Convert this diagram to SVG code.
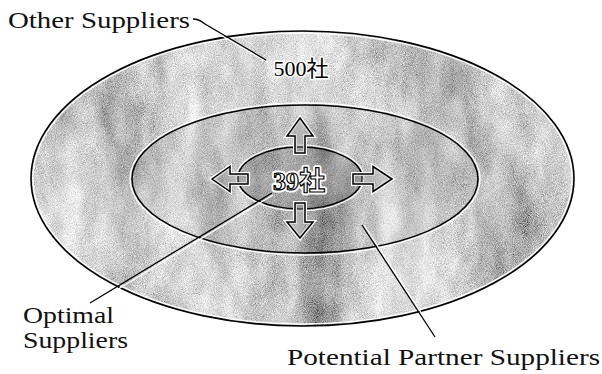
<svg xmlns="http://www.w3.org/2000/svg" width="602" height="374" viewBox="0 0 602 374">
<style>
.lbl{font-family:"Liberation Serif","DejaVu Serif","Noto Serif",Tinos,"Nimbus Roman","FreeSerif","Times New Roman",Times,Georgia,serif;font-size:23px;fill:#111}
.num{font-family:"Liberation Serif","DejaVu Serif","Noto Serif",Tinos,"Nimbus Roman","Times New Roman","Noto Sans CJK JP",serif;text-anchor:middle}
.lead{fill:none;stroke:#000;stroke-width:1.3}
.halo{fill:none;stroke:#fff;stroke-width:1.3}
.arrW{fill:none;stroke:#fff;stroke-width:4;stroke-linejoin:miter}
.arrB{fill:#9a9a9a;fill-opacity:0.35;stroke:#000;stroke-width:1.5;stroke-linejoin:miter}
</style>
<defs>
<filter id="tex" filterUnits="userSpaceOnUse" x="0" y="0" width="602" height="374">
<feTurbulence type="fractalNoise" baseFrequency="0.02 0.006" numOctaves="4" seed="11" result="a"/>
<feTurbulence type="fractalNoise" baseFrequency="0.06 0.03" numOctaves="2" seed="5" result="m"/>
<feTurbulence type="fractalNoise" baseFrequency="1.1" numOctaves="2" seed="3" result="b"/>
<feComposite in="a" in2="m" operator="arithmetic" k1="0" k2="0.7" k3="0.3" k4="0" result="am"/>
<feComposite in="am" in2="b" operator="arithmetic" k1="0" k2="0.6" k3="0.4" k4="0" result="c"/>
<feColorMatrix in="c" type="matrix" values="1.9 0 0 0 -0.35  1.9 0 0 0 -0.35  1.9 0 0 0 -0.35  0 0 0 0 1"/>
</filter>
<clipPath id="outerClip"><ellipse cx="302.5" cy="178.5" rx="271.5" ry="147.5"/></clipPath>
</defs>
<rect width="602" height="374" fill="#fff"/>
<g id="outer">
<rect x="0" y="0" width="602" height="374" filter="url(#tex)" clip-path="url(#outerClip)"/>
<ellipse cx="302.5" cy="178.5" rx="269.5" ry="145.5" fill="none" stroke="#fff" stroke-width="1.3"/>
<ellipse cx="302.5" cy="178.5" rx="271.5" ry="147.5" fill="none" stroke="#000" stroke-width="1.6"/>
<text class="num" x="301" y="76" font-size="22" fill="#000" stroke="#fff" stroke-width="3" paint-order="stroke">500社</text>
</g>
<g id="middle">
<ellipse cx="305" cy="179" rx="173" ry="74" fill="#000" fill-opacity="0.06"/>
<ellipse cx="305" cy="179" rx="175" ry="76" fill="none" stroke="#fff" stroke-width="1.3"/>
<ellipse cx="305" cy="179" rx="173" ry="74" fill="none" stroke="#000" stroke-width="1.5"/>
</g>
<g id="inner">
<ellipse cx="300" cy="178" rx="62" ry="31" fill="#000" fill-opacity="0.14"/>
<ellipse cx="300" cy="178" rx="64" ry="33" fill="none" stroke="#fff" stroke-width="1.2"/>
<ellipse cx="300" cy="178" rx="62" ry="31" fill="none" stroke="#000" stroke-width="1.5"/>
</g>
<g id="arrows">
<polygon class="arrW" points="300,118 313,136 305,136 305,153 295,153 295,136 287,136"/>
<polygon class="arrB" points="300,118 313,136 305,136 305,153 295,153 295,136 287,136"/>
<polygon class="arrW" points="300,238 313,222 305,222 305,203 295,203 295,222 287,222"/>
<polygon class="arrB" points="300,238 313,222 305,222 305,203 295,203 295,222 287,222"/>
<polygon class="arrW" points="212,179 230,166.5 230,174 248,174 248,184 230,184 230,191.5"/>
<polygon class="arrB" points="212,179 230,166.5 230,174 248,174 248,184 230,184 230,191.5"/>
<polygon class="arrW" points="392,179 373,166.5 373,174 353,174 353,184 373,184 373,191.5"/>
<polygon class="arrB" points="392,179 373,166.5 373,174 353,174 353,184 373,184 373,191.5"/>
</g>
<g id="core">
<text class="num" x="299" y="190" font-size="26" font-weight="bold" fill="none" stroke="#fff" stroke-width="5" stroke-linejoin="round">39社</text>
<text class="num" x="299" y="190" font-size="26" font-weight="bold" fill="#fff" stroke="#000" stroke-width="1.2">39社</text>
</g>
<g id="connectors">
<path class="halo" d="M205,26 L267,62"/>
<path class="lead" d="M193,19 Q199,19 205,24 L266,60"/>
<path class="halo" d="M92,305 L273,195"/>
<path class="lead" d="M90,303 L272,193"/>
<path class="halo" d="M364,225 L437,337"/>
<path class="lead" d="M362,225 L435,337"/>
</g>
<g id="labels">
<text class="lbl" x="8" y="28" textLength="182" lengthAdjust="spacingAndGlyphs">Other Suppliers</text>
<text class="lbl" x="23" y="323" textLength="91" lengthAdjust="spacingAndGlyphs">Optimal</text>
<text class="lbl" x="23" y="348" textLength="105" lengthAdjust="spacingAndGlyphs">Suppliers</text>
<text class="lbl" x="287" y="365" textLength="313" lengthAdjust="spacingAndGlyphs">Potential Partner Suppliers</text>
</g>
</svg>
